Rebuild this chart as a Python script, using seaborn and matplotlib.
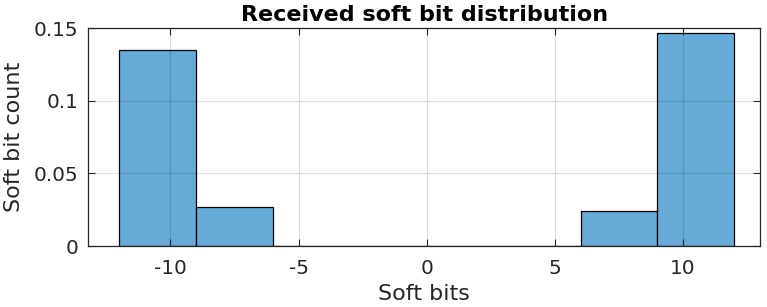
import matplotlib
matplotlib.use("Agg")
import matplotlib.pyplot as plt
import seaborn as sns
import numpy as np

# Data
bin_edges = [-12, -9, -6, -3, 0, 3, 6, 9, 12]
bin_centers = [-10.5, -7.5, 7.5, 10.5]
bin_values = [0.135, 0.027, 0.024, 0.147]
x_ticks = [-10, -5, 0, 5, 10]
y_ticks = [0, 0.05, 0.1, 0.15]
y_tick_labels = ["0", "0.05", "0.1", "0.15"]

sns.set_style("white")
plt.rcParams["font.family"] = ["DejaVu Sans"]
plt.rcParams["axes.unicode_minus"] = False

fig = plt.figure(figsize=(7.67, 3.07), dpi=100)
ax = fig.add_axes([88.3 / 767, 1 - 246 / 307, (760 - 88.3) / 767, (246 - 28.3) / 307])

sns.histplot(x=bin_centers, weights=bin_values, bins=bin_edges, stat="count",
             color=(102 / 255, 170 / 255, 215 / 255), alpha=1.0,
             edgecolor="black", linewidth=0.9, ax=ax)

ax.set_xlim(-13.2, 13)
ax.set_ylim(0, 0.15)
ax.set_xticks(x_ticks)
ax.set_xticklabels([str(t) for t in x_ticks])
ax.set_yticks(y_ticks)
ax.set_yticklabels(y_tick_labels)

ax.set_axisbelow(False)
ax.grid(True, color="black", alpha=0.13, linewidth=0.8)
ax.tick_params(axis="both", direction="in", length=5, width=0.8, colors="#262626",
               labelsize=14.4, top=True, right=True, bottom=True, left=True, pad=7)
ax.tick_params(axis="x", pad=9)
for s in ax.spines.values():
    s.set_color("#262626")
    s.set_linewidth(0.9)

ax.set_xlabel("Soft bits", fontsize=16, color="#262626", labelpad=5)
ax.set_ylabel("Soft bit count", fontsize=16, color="#262626", labelpad=7)
ax.set_title("Received soft bit distribution", fontsize=16, fontweight="bold",
             color="black", pad=5.5)

fig.savefig("out.png", dpi=100)
